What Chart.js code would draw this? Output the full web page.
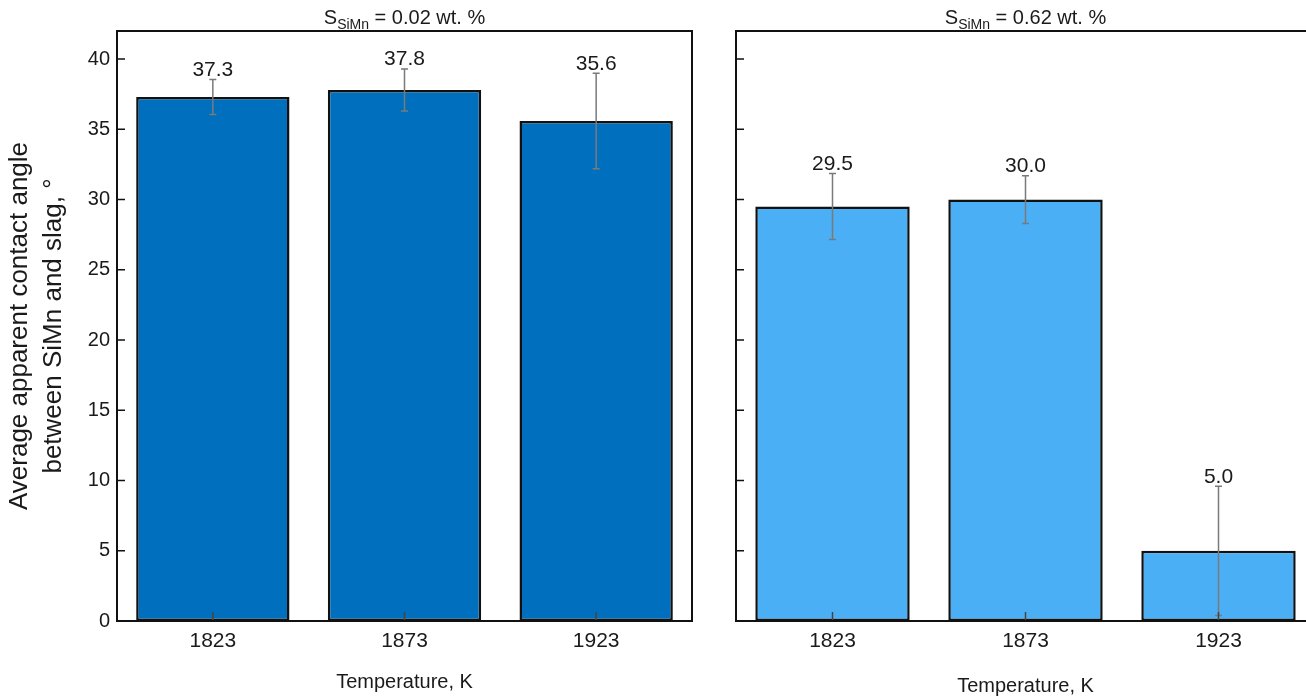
<!DOCTYPE html>
<html>
<head>
<meta charset="utf-8">
<script src="https://cdn.jsdelivr.net/npm/chart.js@4.4.1/dist/chart.umd.min.js"></script>
<style>
  html, body { margin: 0; padding: 0; background: #fff; overflow: hidden; width: 1306px; height: 698px; }
  .panel { position: absolute; top: 0; height: 698px; }
</style>
</head>
<body>
<div class="panel" style="left:0;width:700px"><canvas id="lowS"></canvas></div>
<div class="panel" style="left:700px;width:620px"><canvas id="highS"></canvas></div>
<script>
const temperatures = ["1823", "1873", "1923"];
const angleLowS = [37.3, 37.8, 35.6];
const errLowS = [1.25, 1.5, 3.4];
const angleHighS = [29.5, 30.0, 5.0];
const errHighS = [2.35, 1.7, 4.6];
const yTickValues = [0, 5, 10, 15, 20, 25, 30, 35, 40];

const FONT = "'Liberation Sans', Arial, sans-serif";
const TEXT = "#1a1a1a";

// error bars + value labels, drawn from the bar elements
const errorBars = {
  id: "errorBars",
  afterDatasetsDraw(chart, args, opts) {
    const ctx = chart.ctx;
    const y = chart.scales.y;
    const meta = chart.getDatasetMeta(0);
    const vals = chart.data.datasets[0].data;
    meta.data.forEach((bar, i) => {
      const top = y.getPixelForValue(vals[i] + opts.err[i]);
      const bot = y.getPixelForValue(Math.max(0, vals[i] - opts.err[i]));
      ctx.save();
      ctx.strokeStyle = "#7a7a7a";
      ctx.lineWidth = 1.5;
      ctx.beginPath();
      ctx.moveTo(bar.x, top); ctx.lineTo(bar.x, bot);
      ctx.moveTo(bar.x - 3.5, top); ctx.lineTo(bar.x + 3.5, top);
      ctx.moveTo(bar.x - 3.5, bot); ctx.lineTo(bar.x + 3.5, bot);
      ctx.stroke();
      ctx.fillStyle = TEXT;
      ctx.font = "21px " + FONT;
      ctx.textAlign = "center";
      ctx.textBaseline = "alphabetic";
      ctx.fillText(vals[i].toFixed(1), bar.x, top - 3.5);
      ctx.restore();
    });
  }
};

// box frame and inward tick marks
const frame = {
  id: "frame",
  afterDraw(chart) {
    const ctx = chart.ctx;
    const a = chart.chartArea;
    const x = chart.scales.x, y = chart.scales.y;
    ctx.save();
    ctx.strokeStyle = "#444";
    ctx.lineWidth = 1.5;
    ctx.beginPath();
    temperatures.forEach((t, i) => {
      const px = x.getPixelForValue(i);
      ctx.moveTo(px, a.bottom); ctx.lineTo(px, a.bottom - 9);
    });
    ctx.stroke();
    ctx.strokeStyle = "#111";
    ctx.beginPath();
    yTickValues.forEach(v => {
      const py = y.getPixelForValue(v);
      ctx.moveTo(a.left, py); ctx.lineTo(a.left + 8, py);
    });
    ctx.stroke();
    ctx.lineWidth = 2;
    ctx.strokeRect(a.left, a.top, a.right - a.left, a.bottom - a.top);
    ctx.restore();
  }
};

// panel heading with subscript
const heading = {
  id: "heading",
  afterDraw(chart, args, opts) {
    const ctx = chart.ctx;
    const a = chart.chartArea;
    const parts = [
      { t: "S", f: "20px " + FONT, dy: 0 },
      { t: "SiMn", f: "14px " + FONT, dy: 4.5 },
      { t: " = " + opts.value + " wt. %", f: "20px " + FONT, dy: 0 }
    ];
    ctx.save();
    let w = 0;
    parts.forEach(p => { ctx.font = p.f; w += ctx.measureText(p.t).width; });
    let cx = (a.left + a.right) / 2 - w / 2;
    ctx.fillStyle = TEXT;
    ctx.textBaseline = "alphabetic";
    ctx.textAlign = "left";
    parts.forEach(p => {
      ctx.font = p.f;
      ctx.fillText(p.t, cx, 24 + p.dy);
      cx += ctx.measureText(p.t).width;
    });
    ctx.restore();
  }
};

function makePanel(id, values, errs, color, sValue, isLeft, plotRight, titlePadBottom) {
  return new Chart(document.getElementById(id), {
    type: "bar",
    data: {
      labels: temperatures,
      datasets: [{
        data: values,
        backgroundColor: color,
        borderColor: "#111",
        borderWidth: 2.5,
        borderSkipped: false,
        barPercentage: 0.8,
        categoryPercentage: 1.0
      }]
    },
    options: {
      responsive: true,
      maintainAspectRatio: false,
      animation: false,
      layout: { padding: { top: 31, right: plotRight, left: 0, bottom: 0 } },
      plugins: {
        legend: { display: false },
        tooltip: { enabled: false },
        errorBars: { err: errs },
        heading: { value: sValue }
      },
      scales: {
        x: {
          grid: { display: false, drawTicks: false },
          border: { display: false },
          ticks: { color: TEXT, font: { family: FONT, size: 21 }, padding: 8 },
          title: {
            display: true,
            text: "Temperature, K",
            color: TEXT,
            font: { family: FONT, size: 20 },
            padding: { top: 0, bottom: titlePadBottom }
          },
          afterFit(scale) { scale.height = 77; }
        },
        y: {
          min: 0,
          max: 42,
          grid: { display: false, drawTicks: false },
          border: { display: false },
          afterBuildTicks(scale) { scale.ticks = yTickValues.map(v => ({ value: v })); },
          ticks: { display: isLeft, color: TEXT, font: { family: FONT, size: 20 }, padding: 7 },
          title: {
            display: isLeft,
            text: ["Average apparent contact angle", "between SiMn and slag, \u00b0"],
            color: TEXT,
            font: { family: FONT, size: 26, lineHeight: 1.3 },
            padding: { top: 3, bottom: 0 }
          },
          afterFit(scale) { scale.width = isLeft ? 117 : 36; }
        }
      }
    },
    plugins: [errorBars, frame, heading]
  });
}

makePanel("lowS", angleLowS, errLowS, "#0070BE", "0.02", true, 8, 4);
makePanel("highS", angleHighS, errHighS, "#4BAFF5", "0.62", false, 5, 0);
</script>
</body>
</html>
